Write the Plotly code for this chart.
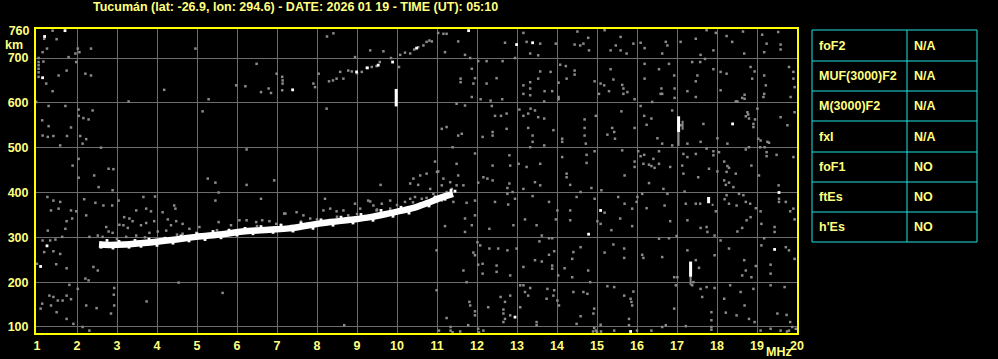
import plotly.graph_objects as go

# ---------------- data (frequency MHz, virtual height km) ----------------
title_text = "Tucumán (lat: -26.9, lon: 294.6) - DATE: 2026 01 19 - TIME (UT): 05:10"
x_ticks = list(range(1, 21))
y_ticks = [100, 200, 300, 400, 500, 600, 700]
y_top_tick = [760]

param_names = ["foF2", "MUF(3000)F2", "M(3000)F2", "fxI", "foF1", "ftEs", "h'Es"]
param_values = ["N/A", "N/A", "N/A", "N/A", "NO", "NO", "NO"]

# main F-layer trace (white band centre line)
trace_freq = [2.55, 2.8, 3.2, 3.5, 3.98, 4.48, 4.98, 5.64, 6.14, 6.8, 7.3, 7.8,
              8.33, 8.83, 9.33, 9.83, 10.15, 10.5, 10.83, 11.08, 11.4]
trace_h = [284, 283, 284, 286, 290, 295, 301, 307, 313, 317, 320, 327,
           334, 339, 345, 354, 360, 368, 379, 388, 397]

# white speckles along the band edges
band_speckles = [(2.6, 278), (2.75, 293), (2.9, 276), (3.05, 291), (3.3, 278), (3.45, 293), (3.6, 280),
                 (3.8, 296), (4.0, 282), (4.2, 298), (4.4, 287), (4.6, 303), (4.8, 292), (5.0, 308),
                 (5.2, 295), (5.4, 313), (5.6, 299), (5.8, 316), (6.0, 305), (6.2, 320), (6.4, 308),
                 (6.6, 324), (6.9, 311), (7.1, 327), (7.4, 314), (7.6, 332), (7.9, 320), (8.1, 339),
                 (8.4, 327), (8.6, 345), (8.9, 332), (9.1, 351), (9.4, 338), (9.6, 360), (9.9, 347),
                 (10.1, 367), (10.3, 354), (10.6, 375), (10.8, 370), (10.95, 390), (11.2, 385), (11.35, 405)]

# gray echoes around the trace
echo_pts = [(3.04, 382), (3.66, 390), (3.95, 391), (3.48, 360), (3.73, 364), (3.85, 358), (4.14, 356),
            (3.18, 345), (3.31, 342), (3.39, 336), (3.06, 328), (3.16, 327), (3.27, 321), (3.6, 327),
            (3.73, 332), (3.93, 336), (4.27, 340), (4.48, 336), (4.35, 327), (4.64, 330), (4.81, 319),
            (5.06, 323), (2.73, 323), (2.79, 313), (2.89, 310), (2.52, 304), (2.64, 301), (2.31, 301),
            (2.6, 289), (3.23, 301), (3.48, 304), (3.81, 310), (4.02, 313), (4.23, 315), (4.43, 371),
            (4.46, 364), (5.54, 334), (5.85, 327), (6.06, 338), (6.24, 338), (6.48, 334), (6.63, 338),
            (6.81, 336), (6.98, 330), (7.18, 353), (5.56, 310), (4.98, 310), (4.64, 308),
            (7.49, 356), (7.66, 349), (7.83, 342), (8.16, 360), (8.33, 364), (8.49, 358), (8.66, 360),
            (8.78, 349), (8.95, 375), (9.08, 364), (9.28, 382), (9.41, 371), (9.49, 360), (9.62, 375),
            (9.83, 382), (9.83, 364), (10.2, 379), (10.33, 386), (10.45, 390), (10.62, 386), (10.74, 388),
            (10.91, 397), (11.0, 379), (11.12, 382), (11.24, 390), (11.37, 408), (11.53, 438),
            (11.66, 416), (11.49, 416), (11.33, 423), (11.16, 431), (11.0, 446), (10.74, 442),
            (10.58, 438), (10.41, 431), (10.33, 420), (10.53, 417), (10.83, 408), (11.12, 416),
            (11.24, 401), (11.41, 379), (8.2, 386), (9.33, 380), (9.59, 417),
            (7.6, 335), (8.0, 340), (8.5, 346), (9.0, 352), (9.5, 362), (10.0, 372), (6.5, 325),
            (5.5, 316), (4.5, 306), (3.7, 300), (3.0, 296), (10.4, 378), (7.1, 328)]

# second-hop trace (upper, gray with some white)
hop2_pts = [(8.49, 654), (8.58, 669), (8.66, 654), (8.78, 672), (8.87, 670), (9.12, 669), (9.24, 678),
            (9.37, 680), (9.49, 682), (9.57, 691), (9.85, 700), (10.08, 707), (10.2, 712), (10.33, 710),
            (10.43, 719), (10.53, 724), (10.66, 728), (10.74, 736), (10.81, 739), (10.87, 737),
            (7.91, 643), (7.95, 635), (8.3, 648), (8.4, 650), (9.0, 666)]

white_pts = [(8.99, 669), (9.26, 678), (9.53, 684), (9.89, 691), (10.49, 722), (7.39, 629),
             (1.19, 748), (1.7, 761), (1.14, 656), (1.25, 281), (1.09, 235),
             (11.79, 761), (12.99, 730), (13.39, 734), (12.95, 122),
             (18.39, 553), (19.55, 400), (19.44, 273), (15.09, 360), (14.79, 307), (15.84, 90),
             (11.45, 403), (11.3, 396)]

# vertical streaks: (freq, top height, bottom height)
white_bars = [(9.98, 631, 592), (17.04, 570, 535), (17.79, 390, 376), (17.34, 246, 212)]
gray_bars = [(17.04, 535, 504), (17.34, 212, 193), (17.14, 560, 540), (17.89, 375, 370)]

noise_left = [(1.39, 761), (1.18, 743), (1.49, 742), (1.14, 713), (1.25, 721), (1.04, 691), (1.04, 676),
              (1.16, 692), (1.04, 658), (1.23, 643), (1.79, 702), (1.96, 710), (2.02, 721), (2.06, 713),
              (2.35, 721), (1.98, 691), (1.74, 672), (1.54, 661), (2.21, 665), (2.35, 661), (1.39, 626),
              (0.98, 602), (1.29, 593), (1.71, 593), (2.04, 585), (2.04, 571), (2.16, 566), (2.29, 563),
              (2.39, 583), (1.13, 561), (1.29, 548), (1.85, 545), (1.14, 527), (1.27, 524), (1.41, 526),
              (1.75, 526), (2.08, 526), (2.23, 519), (2.14, 509), (1.58, 505), (2.6, 500), (2.04, 475),
              (1.89, 460), (2.79, 453), (2.91, 452), (2.43, 438), (2.04, 433), (2.54, 412), (2.89, 405),
              (1.26, 390), (1.41, 382), (1.58, 379), (1.35, 360), (1.54, 364), (1.85, 360), (1.98, 358),
              (2.18, 385), (2.46, 377), (2.66, 371), (2.88, 371), (2.23, 349), (1.74, 336), (1.71, 319),
              (1.27, 315), (1.88, 342), (1.14, 293), (1.33, 293), (1.46, 295), (1.63, 301), (1.58, 263),
              (1.41, 269), (1.18, 267), (1.48, 240), (1.74, 231), (2.41, 234), (2.52, 226), (2.21, 208),
              (2.29, 204), (1.81, 194), (2.02, 185), (2.93, 187), (2.92, 172), (1.31, 170), (1.41, 167),
              (1.52, 159), (1.64, 159), (1.74, 170), (1.85, 162), (2.23, 148), (2.49, 142), (2.93, 148),
              (1.35, 148), (1.13, 152), (1.09, 141), (1.49, 133), (1.74, 118), (2.85, 130), (1.91, 107),
              (2.14, 100), (2.31, 92), (1.0, 241), (4.96, 721), (4.18, 629), (5.29, 608), (5.14, 581),
              (3.29, 603), (6.24, 496), (5.27, 431), (5.46, 422), (6.24, 417), (6.93, 427), (5.54, 400),
              (6.6, 386), (5.46, 382), (5.98, 639), (6.21, 637), (6.49, 687), (6.6, 624), (6.79, 632),
              (6.85, 622), (6.99, 665), (7.13, 658), (7.14, 650), (7.14, 643), (7.13, 628), (4.54, 199),
              (5.64, 176), (3.74, 157), (7.21, 353), (1.04, 700), (1.04, 684), (1.04, 668)]

noise_mid = [(8.24, 587), (8.95, 702), (9.33, 717), (9.66, 715), (11.03, 756), (11.16, 754), (11.24, 754),
             (11.2, 713), (11.53, 737), (11.7, 707), (11.83, 700), (12.03, 693), (12.24, 693), (12.64, 693),
             (12.7, 734), (13.16, 756), (13.24, 736), (13.33, 710), (13.53, 706), (13.58, 732), (11.87, 676),
             (11.95, 655), (11.59, 654), (11.59, 646), (11.91, 643), (12.24, 643), (12.49, 655), (13.16, 639),
             (13.16, 620), (13.33, 646), (13.33, 632), (13.33, 617), (13.53, 654), (13.58, 670), (11.87, 613),
             (12.09, 608), (12.34, 605), (11.7, 594), (11.49, 598), (12.37, 593), (12.45, 571), (12.6, 571),
             (12.74, 576), (13.16, 571), (13.28, 576), (13.34, 587), (13.45, 583), (13.06, 585), (13.53, 568),
             (11.24, 546), (11.12, 542), (11.62, 531), (11.53, 527), (12.14, 524), (12.39, 535), (12.39, 527),
             (12.74, 542), (13.28, 544), (13.39, 527), (13.39, 513), (13.33, 501), (11.95, 487), (11.39, 501),
             (12.81, 483), (12.83, 460), (13.04, 464), (13.24, 457), (13.58, 464), (12.39, 460), (10.95, 469),
             (11.49, 464), (11.03, 447), (12.16, 434), (12.26, 431), (12.39, 427), (12.03, 422), (12.81, 420),
             (12.89, 401), (13.45, 423), (13.58, 416), (13.16, 408), (12.76, 410), (12.76, 397), (13.39, 392),
             (11.74, 377), (11.95, 382), (12.45, 379), (12.78, 373), (12.95, 386), (13.2, 340), (13.49, 327),
             (11.95, 349), (11.7, 342), (11.2, 325), (11.7, 312), (11.87, 327), (12.91, 327), (12.31, 319),
             (12.01, 289), (11.91, 266), (11.95, 260), (12.08, 282), (12.31, 275), (12.53, 275), (12.76, 271),
             (12.99, 275), (13.45, 249), (13.62, 246), (12.03, 239), (12.14, 241), (12.49, 237), (12.49, 223),
             (13.16, 234), (12.83, 215), (11.66, 226), (12.14, 219), (10.99, 182), (11.74, 200), (11.81, 156),
             (11.83, 148), (11.95, 135), (11.95, 126), (12.28, 144), (12.59, 167), (12.7, 156), (12.83, 170),
             (12.66, 139), (12.66, 130), (12.7, 118), (12.83, 126), (13.08, 193), (13.16, 193), (13.2, 178),
             (13.28, 170), (13.33, 187), (13.08, 144), (13.49, 111), (13.49, 104), (11.24, 120), (11.34, 100),
             (11.34, 92), (11.78, 104), (12.03, 96), (12.16, 92), (12.66, 111), (11.58, 90), (13.62, 304),
             (13.56, 291), (8.68, 104), (10.99, 271), (8.41, 755), (8.25, 748), (10.05, 680), (8.04, 665),
             (12.95, 700), (12.63, 608), (11.05, 92), (12.05, 88), (11.39, 88)]

noise_right = [(13.97, 732), (14.51, 759), (14.44, 730), (14.58, 728), (14.66, 732), (14.78, 745), (14.8, 717),
               (15.19, 762), (15.47, 728), (15.59, 747), (15.59, 717), (15.34, 717), (15.91, 732), (16.09, 734),
               (16.19, 722), (16.63, 710), (16.72, 736), (16.76, 728), (17.09, 736), (17.47, 743), (17.59, 707),
               (17.74, 762), (17.91, 717), (17.97, 756), (18.24, 749), (18.38, 736), (18.65, 759), (19.13, 752),
               (19.24, 732), (19.18, 713), (19.59, 730), (19.59, 719), (19.53, 758), (18.68, 710), (15.74, 710),
               (13.84, 669), (14.08, 685), (14.22, 682), (14.44, 672), (14.44, 663), (14.24, 654), (14.04, 645),
               (13.69, 626), (13.88, 626), (14.04, 613), (14.04, 608), (13.68, 603), (14.94, 648), (15.09, 643),
               (15.18, 639), (15.05, 620), (15.3, 626), (15.41, 652), (15.34, 675), (15.63, 640), (15.66, 632),
               (15.66, 620), (15.76, 624), (15.94, 608), (16.19, 687), (16.19, 654), (16.55, 675), (16.61, 632),
               (16.59, 620), (16.8, 687), (16.93, 661), (16.94, 632), (16.94, 611), (17.26, 626), (17.47, 613),
               (17.47, 648), (17.51, 661), (17.38, 691), (17.58, 691), (17.7, 698), (17.91, 675), (18.09, 669),
               (18.24, 665), (18.09, 628), (18.47, 603), (18.63, 611), (18.69, 618), (18.69, 609), (18.84, 680),
               (18.94, 670), (18.88, 654), (19.18, 661), (19.18, 620), (19.16, 613), (19.22, 639), (19.8, 680),
               (19.91, 669), (19.91, 654), (19.94, 635), (19.84, 613), (16.38, 602), (16.63, 620),
               (13.68, 565), (13.91, 539), (14.13, 520), (14.13, 513), (14.69, 563), (14.69, 544), (14.69, 527),
               (14.72, 509), (14.97, 571), (15.26, 529), (15.38, 544), (15.43, 535), (15.45, 520), (15.61, 581),
               (15.94, 544), (16.09, 593), (16.18, 571), (16.24, 551), (16.36, 565), (16.51, 521), (16.63, 509),
               (16.88, 583), (16.88, 505), (17.09, 550), (17.26, 509), (17.59, 513), (17.66, 553), (18.01, 521),
               (18.26, 509), (18.51, 603), (18.76, 579), (18.78, 574), (18.8, 565), (18.72, 570), (18.91, 553),
               (18.91, 546), (18.95, 563), (19.01, 587), (19.03, 520), (19.09, 516), (19.26, 513), (19.3, 511),
               (19.59, 568), (19.76, 550), (19.94, 579), (18.8, 501), (19.19, 501),
               (13.68, 505), (14.13, 479), (14.24, 442), (14.24, 434), (14.33, 417), (14.74, 484), (14.74, 466),
               (14.94, 492), (14.86, 410), (15.11, 405), (15.69, 438), (15.63, 494), (16.03, 492), (16.09, 481),
               (15.94, 469), (15.94, 457), (16.18, 484), (16.16, 464), (16.3, 462), (16.36, 459), (16.44, 455),
               (16.41, 475), (16.55, 464), (16.55, 492), (16.83, 457), (16.66, 408), (16.13, 397), (16.3, 421),
               (17.16, 486), (17.13, 460), (17.16, 442), (17.26, 479), (17.47, 486), (17.53, 434), (17.74, 498),
               (17.91, 492), (17.91, 483), (17.8, 453), (18.05, 490), (18.01, 447), (18.18, 469), (18.26, 459),
               (18.3, 455), (18.24, 446), (18.18, 427), (18.22, 417), (18.3, 422), (18.41, 412), (18.47, 442),
               (18.72, 496), (19.08, 501), (19.24, 490), (19.24, 481), (19.49, 484), (19.91, 479), (19.54, 416),
               (19.05, 438), (18.86, 460),
               (13.8, 379), (14.01, 360), (13.97, 340), (14.33, 360), (14.33, 338), (14.49, 390), (14.59, 401),
               (14.94, 386), (15.01, 336), (15.09, 330), (15.19, 355), (15.36, 316), (15.53, 390), (15.58, 342),
               (15.69, 375), (15.88, 364), (15.88, 325), (15.99, 379), (16.01, 390), (16.24, 365), (16.69, 371),
               (16.76, 397), (16.83, 336), (17.19, 402), (17.22, 375), (17.26, 338), (17.47, 375), (17.58, 375),
               (17.59, 321), (17.74, 323), (17.76, 312), (17.97, 358), (17.94, 304), (18.19, 385), (18.24, 394),
               (18.3, 375), (18.49, 371), (18.55, 397), (18.66, 394), (18.72, 379), (18.83, 375), (18.84, 345),
               (18.74, 338), (18.63, 321), (18.97, 365), (19.09, 358), (19.44, 323), (19.44, 312), (19.55, 386),
               (19.55, 379), (19.72, 379), (19.83, 358), (19.91, 364), (19.94, 340), (19.11, 330), (13.8, 298),
               (13.88, 298), (18.51, 313),
               (13.8, 261), (13.93, 269), (13.88, 237), (13.88, 230), (14.03, 215), (14.19, 231), (14.38, 252),
               (14.41, 267), (14.38, 211), (14.59, 278), (14.78, 226), (15.19, 266), (15.41, 284), (15.68, 275),
               (15.68, 254), (16.13, 261), (16.16, 254), (16.55, 297), (16.8, 298), (16.99, 303), (16.93, 211),
               (16.63, 256), (17.26, 271), (17.47, 249), (17.55, 232), (17.41, 200), (17.94, 260), (18.09, 293),
               (18.3, 275), (18.68, 249), (18.97, 236), (18.72, 226), (19.11, 282), (19.18, 298), (19.34, 239),
               (19.34, 219), (19.72, 278), (19.8, 271), (19.94, 252), (18.63, 215), (18.86, 211),
               (13.76, 185), (13.93, 182), (13.91, 170), (13.74, 163), (14.01, 159), (14.05, 148), (14.41, 178),
               (14.66, 178), (14.76, 174), (14.83, 200), (15.26, 191), (15.43, 189), (15.68, 170), (14.93, 141),
               (14.91, 130), (14.59, 124), (14.49, 107), (14.93, 98), (14.97, 92), (15.09, 105), (15.43, 92),
               (15.8, 118), (15.8, 104), (15.91, 179), (15.84, 163), (15.86, 156), (15.88, 148), (16.36, 92),
               (16.63, 100), (16.72, 104), (16.93, 141), (17.01, 211), (17.22, 102), (17.38, 193), (17.59, 185),
               (17.63, 167), (17.74, 189), (17.86, 133), (17.86, 115), (17.86, 100), (17.94, 187), (18.18, 163),
               (18.22, 132), (18.33, 193), (18.49, 126), (18.59, 178), (18.69, 148), (18.8, 118), (18.91, 185),
               (18.94, 111), (19.09, 92), (19.34, 193), (19.51, 130), (19.69, 189), (19.74, 127), (19.83, 111),
               (19.88, 100), (19.97, 96), (19.34, 96), (19.59, 92), (16.97, 193),
               (14.9, 90), (15.0, 88), (15.1, 90), (16.0, 92), (19.75, 90), (19.8, 92), (17.86, 94)]

# ---------------- layout geometry ----------------
W, H = 998, 359
L, R, T, B = 36, 797, 29, 333
YELLOW = "#ffff80"
CYAN = "#1fe3e3"
GRID = "#6c6c6c"
GRAY = "#8a8a8a"
FONT = "Liberation Sans"


def px_x(px):
    return (px - L) / (R - L)


def px_y(py):
    return (B - py) / (B - T)


def unzip(pts):
    return [p[0] for p in pts], [p[1] for p in pts]


def bars_xy(bars):
    xs, ys = [], []
    for f, top, bot in bars:
        xs += [f, f, None]
        ys += [top, bot, None]
    return xs, ys


fig = go.Figure()

gray_f, gray_h = unzip(noise_left + noise_mid + noise_right + echo_pts + hop2_pts)
fig.add_trace(go.Scatter(x=gray_f, y=gray_h, mode="markers",
                         marker=dict(symbol="square", size=2.5, color=GRAY, line=dict(width=0)),
                         hoverinfo="skip", showlegend=False))

gbx, gby = bars_xy(gray_bars)
fig.add_trace(go.Scatter(x=gbx, y=gby, mode="lines", line=dict(color=GRAY, width=2),
                         hoverinfo="skip", showlegend=False))

fig.add_trace(go.Scatter(x=trace_freq, y=trace_h, mode="lines",
                         line=dict(color="white", width=6.5, shape="spline"),
                         hoverinfo="skip", showlegend=False))

wf, wh = unzip(white_pts + band_speckles)
fig.add_trace(go.Scatter(x=wf, y=wh, mode="markers",
                         marker=dict(symbol="square", size=2.8, color="white", line=dict(width=0)),
                         hoverinfo="skip", showlegend=False))

wbx, wby = bars_xy(white_bars)
fig.add_trace(go.Scatter(x=wbx, y=wby, mode="lines", line=dict(color="white", width=3),
                         hoverinfo="skip", showlegend=False))

# invisible trace to anchor the secondary axis carrying the 760 label
fig.add_trace(go.Scatter(x=[None], y=[None], yaxis="y2", showlegend=False, hoverinfo="skip"))

tick_font = dict(family=FONT, size=12.5, color=YELLOW, weight="bold")
y_range = [86.6, 764.7]

fig.update_layout(
    width=W, height=H,
    margin=dict(l=L, r=W - R, t=T, b=H - B, pad=0, autoexpand=False),
    paper_bgcolor="black", plot_bgcolor="black",
    showlegend=False,
    xaxis=dict(range=[0.975, 20], tickvals=x_ticks, ticktext=[str(v) for v in x_ticks],
               showgrid=True, gridcolor=GRID, gridwidth=1, zeroline=False,
               showline=True, linecolor="#ffff00", linewidth=2, mirror=True,
               ticks="", automargin=False,
               tickfont=tick_font, fixedrange=True),
    yaxis=dict(range=y_range, tickvals=y_ticks, ticktext=[str(v) for v in y_ticks],
               showgrid=True, gridcolor=GRID, gridwidth=1, zeroline=False,
               showline=True, linecolor="#ffff00", linewidth=2, mirror=True,
               ticks="outside", ticklen=3, tickcolor="rgba(0,0,0,0)", automargin=False,
               tickfont=tick_font, fixedrange=True),
    yaxis2=dict(range=y_range, overlaying="y", side="left", anchor="x",
                tickvals=y_top_tick, ticktext=[str(v) for v in y_top_tick],
                showgrid=False, zeroline=False, showline=False, automargin=False,
                ticks="outside", ticklen=3, tickcolor="rgba(0,0,0,0)",
                tickfont=tick_font, fixedrange=True),
)

annotations = [
    dict(text=title_text, x=px_x(295.5), y=px_y(7), xref="paper", yref="paper",
         xanchor="center", yanchor="middle", showarrow=False,
         font=dict(family=FONT, size=12.5, color=YELLOW, weight="bold")),
    dict(text="km", x=px_x(13.5), y=px_y(45), xref="paper", yref="paper",
         xanchor="center", yanchor="middle", showarrow=False,
         font=dict(family=FONT, size=12.5, color=YELLOW, weight="bold")),
    dict(text="MHz", x=px_x(779), y=px_y(352), xref="paper", yref="paper",
         xanchor="center", yanchor="middle", showarrow=False,
         font=dict(family=FONT, size=12.5, color=YELLOW, weight="bold")),
]

# parameter table
tab_left, tab_mid, tab_right = 812, 907, 977
row_lines = [30, 61, 91, 121, 152, 182, 212, 242]
shapes = [dict(type="rect", xref="paper", yref="paper",
               x0=px_x(tab_left), x1=px_x(tab_right), y0=px_y(row_lines[0]), y1=px_y(row_lines[-1]),
               line=dict(color=CYAN, width=1))]
shapes.append(dict(type="line", xref="paper", yref="paper",
                   x0=px_x(tab_mid), x1=px_x(tab_mid), y0=px_y(row_lines[0]), y1=px_y(row_lines[-1]),
                   line=dict(color=CYAN, width=1)))
for ry in row_lines[1:-1]:
    shapes.append(dict(type="line", xref="paper", yref="paper",
                       x0=px_x(tab_left), x1=px_x(tab_right), y0=px_y(ry), y1=px_y(ry),
                       line=dict(color=CYAN, width=1)))
for i, (name, val) in enumerate(zip(param_names, param_values)):
    cy = (row_lines[i] + row_lines[i + 1]) / 2
    annotations.append(dict(text=name, x=px_x(817), y=px_y(cy), xref="paper", yref="paper",
                            xanchor="left", yanchor="middle", showarrow=False,
                            font=dict(family=FONT, size=12.5, color=YELLOW, weight="bold")))
    annotations.append(dict(text=val, x=px_x(912), y=px_y(cy), xref="paper", yref="paper",
                            xanchor="left", yanchor="middle", showarrow=False,
                            font=dict(family=FONT, size=12.5, color=YELLOW, weight="bold")))

fig.update_layout(annotations=annotations, shapes=shapes)

fig.write_html("out.html")
